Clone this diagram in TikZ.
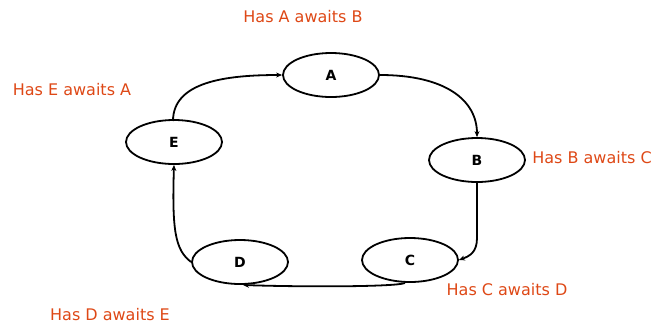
\documentclass[tikz,border=0pt]{standalone}
\usepackage{fontspec}
\setmainfont{DejaVu Sans}
\usetikzlibrary{arrows.meta,shapes.geometric}
\definecolor{lbl}{RGB}{222,72,22}
\begin{document}
\begin{tikzpicture}[x=1pt,y=-1pt,
  st/.style={draw,line width=1.8pt,ellipse,minimum width=96pt,minimum height=44pt,inner sep=0pt,font=\fontsize{14}{16}\selectfont\bfseries},
  ed/.style={line width=1.8pt,-{Stealth[length=6pt,width=5pt]}},
  lb/.style={text=lbl,font=\fontsize{16}{18}\selectfont}]
\useasboundingbox (0,0) rectangle (661,325);
\node[st] (A) at (331,75) {A};
\node[st] (B) at (477,160) {B};
\node[st] (C) at (410,260) {C};
\node[st] (D) at (240,262) {D};
\node[st] (E) at (174,142) {E};
\coordinate (ea) at (173,121);
\coordinate (bc) at (477,182);
\coordinate (cd) at (405,283);
\coordinate (dd) at (243,285);
\draw[ed] (ea) .. controls (173,82) and (225,75) .. (A.west);
\draw[ed] (A.east) .. controls (445,75) and (477,100) .. (B.north);
\draw[ed] (bc) -- (477,238) .. controls (477,252) and (470,256) .. (C.east);
\draw[ed] (cd) .. controls (395,287) and (300,287) .. (dd);
\draw[ed] (D.west) .. controls (175,250) and (172,230) .. (E.south);
\node[lb] (la) at (303,17) {Has A awaits B};
\node[lb] (le) at (72,90) {Has E awaits A};
\node[lb] (lbb) at (592,158) {Has B awaits C};
\node[lb] (lc) at (507,290) {Has C awaits D};
\node[lb] (ld) at (110,315) {Has D awaits E};
\end{tikzpicture}
\end{document}
